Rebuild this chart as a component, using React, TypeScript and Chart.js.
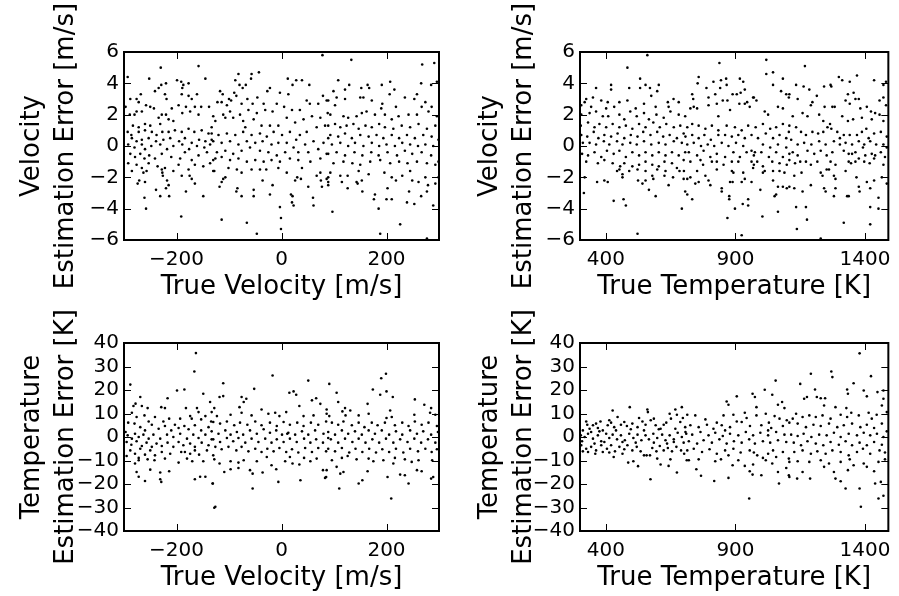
import React, { useEffect, useRef } from 'react';
import { Chart, registerables } from 'chart.js';
Chart.register(...registerables);

// ---- tick values ----
const velocityTicks = [-200, 0, 200];
const temperatureTicks = [400, 900, 1400];
const velocityErrorTicks = [-6, -4, -2, 0, 2, 4, 6];
const temperatureErrorTicks = [-40, -30, -20, -10, 0, 10, 20, 30, 40];

// ---- data: [true value, estimation error] ----
const velErrVsVelocity: [number, number][] = [
[-230,5.0],[-158,5.1],[-293,4.4],[-252,4.3],[-220,4.0],[-229,3.9],[-199,4.2],[-191,4.1],[-187,3.9],[-189,3.7],[-177,4.0],[-145,4.3],[-234,3.7],[-241,3.5],[-268,3.3],[-288,3.0],[-276,3.0],[-272,2.8],[-258,2.6],[-250,2.5],[-243,2.4],[-297,2.5],[-276,2.2],[-280,2.0],[-289,2.0],[-266,2.2],[-222,3.3],[-219,3.0],[-209,2.4],[-190,3.3],[-177,3.2],[-171,3.0],[-161,3.3],[-196,2.6],[-182,2.5],[-165,2.5],[-153,2.5],[-138,2.5],[-189,2.1],[-174,2.2],[-158,2.0],[-228,2.0],[-220,2.0],[-234,1.8],[-215,1.7],[-231,1.4],[-206,1.6],[-260,1.4],[-250,1.3],[-283,1.3],[-272,1.2],[-293,0.9],[-286,0.7],[-272,0.9],[-260,1.0],[-247,0.9],[-238,0.7],[-227,0.9],[-215,0.9],[-203,1.0],[-190,0.9],[-177,1.1],[-166,0.9],[-152,1.0],[-139,0.8],[-133,1.2],[-285,0.5],[-276,0.3],[-266,0.4],[-253,0.5],[-239,0.3],[-225,0.4],[-212,0.5],[-195,0.3],[-184,0.5],[-171,0.2],[-157,0.4],[-145,0.3],[-133,0.4],[-292,0.1],[-280,-0.1],[-266,0.1],[-260,-0.2],[-248,0.0],[-231,0.1],[-218,-0.2],[-206,0.0],[-189,0.1],[-176,-0.2],[-161,0.0],[-147,-0.1],[-136,0.1],[-288,-0.5],[-279,-0.7],[-269,-0.5],[-261,-0.8],[-252,-0.6],[-241,-0.8],[-228,-0.5],[-210,-0.7],[-193,-0.8],[-184,-0.4],[-171,-0.9],[-158,-0.6],[-142,-0.4],[-130,-0.9],[-292,-1.1],[-276,-1.2],[-266,-1.4],[-253,-1.1],[-236,-1.3],[-222,-1.4],[-196,-1.2],[-177,-1.5],[-165,-1.2],[-149,-1.3],[-285,-1.6],[-263,-1.7],[-257,-1.6],[-228,-1.5],[-227,-1.7],[-206,-1.6],[-190,-1.9],[-175,-1.9],[-171,-2.1],[-165,-2.4],[-271,-2.2],[-274,-2.4],[-260,-2.3],[-226,-1.9],[-218,-2.2],[-215,-2.5],[-220,-2.7],[-239,-2.8],[-182,-2.9],[-214,-3.2],[-231,-3.2],[-261,-3.3],[-149,-3.2],[-258,-4.0],[-191,-4.5],[-130,-1.6],[-136,-1.1],
[-82,4.6],[-57,4.6],[-43,4.7],[-88,4.2],[-58,4.3],[-68,3.9],[-80,3.9],[-74,3.7],[-117,3.5],[-112,3.3],[-90,3.4],[-100,3.0],[-86,3.2],[-122,2.8],[-114,2.8],[-104,2.6],[-96,2.9],[-76,2.7],[-65,3.0],[-55,2.7],[-46,3.1],[-34,2.7],[-22,3.7],[-27,3.5],[-3,3.4],[13,3.3],[12,4.3],[21,3.9],[28,4.2],[39,4.2],[53,3.9],[78,5.8],[79,3.2],[70,2.7],[86,2.9],[48,2.9],[54,2.7],[35,2.3],[20,2.3],[5,2.5],[-9,2.7],[-17,2.2],[-31,2.3],[-47,2.1],[-63,2.3],[-79,2.0],[-98,2.2],[-111,2.0],[-130,1.9],[-126,1.6],[-107,1.8],[-92,1.8],[-73,1.6],[-69,1.2],[-53,1.7],[-38,1.3],[-22,1.3],[-6,1.3],[10,1.8],[26,1.5],[42,1.7],[58,1.9],[74,1.8],[88,2.1],[83,1.3],[67,1.2],[48,0.9],[35,0.7],[16,0.9],[1,0.7],[-15,0.9],[-28,0.6],[-41,0.8],[-57,0.7],[-73,0.9],[-88,0.7],[-104,0.8],[-120,0.7],[-133,0.8],[-130,0.3],[-114,0.2],[-98,0.3],[-82,0.1],[-66,0.3],[-50,0.2],[-36,0.3],[-19,0.1],[-6,0.2],[10,0.2],[28,0.4],[45,0.1],[61,0.3],[80,0.2],[89,0.5],[-123,-0.4],[-107,-0.3],[-92,-0.5],[-76,-0.3],[-60,-0.1],[-41,-0.3],[-25,-0.4],[-9,-0.6],[7,-0.4],[23,-0.1],[32,-0.4],[51,-0.4],[70,-0.2],[86,-0.5],[-126,-0.8],[-114,-0.7],[-98,-0.9],[-82,-0.8],[-66,-1.0],[-50,-0.9],[-34,-1.0],[-19,-0.9],[-3,-1.0],[16,-0.8],[32,-0.9],[55,-1.0],[74,-0.8],[-128,-1.6],[-101,-1.4],[-85,-1.5],[-57,-1.5],[-41,-1.5],[-29,-1.5],[-6,-1.4],[10,-1.7],[39,-1.4],[74,-1.7],[-111,-2.1],[-114,-2.3],[-118,-2.6],[-107,-2.0],[-76,-1.7],[-84,-2.7],[-86,-2.9],[-53,-2.8],[-17,-2.5],[-36,-2.2],[26,-2.2],[30,-2.0],[37,-2.1],[18,-3.1],[21,-3.2],[20,-3.6],[23,-3.8],[60,-3.3],[61,-3.8],[67,-1.9],[75,-2.2],[77,-2.6],[89,-2.0],[89,-2.3],[-3,-3.9],[-1,-4.6],[-1,-5.3],[-114,-4.7],[-66,-4.9],[-47,-5.6],[-53,-3.2],[-76,-3.2],[-22,-3.1],[51,-2.6],
[133,5.5],[268,5.2],[291,5.3],[108,4.2],[129,3.9],[121,3.6],[152,3.7],[164,3.9],[167,3.7],[191,3.9],[207,4.1],[215,3.6],[266,4.0],[285,3.9],[296,4.1],[99,3.5],[105,3.1],[121,3.0],[150,3.1],[156,3.1],[172,2.9],[192,2.7],[206,3.3],[218,2.5],[235,3.1],[253,3.0],[258,3.3],[274,2.8],[286,2.5],[280,2.2],[102,2.6],[89,2.9],[93,2.0],[118,1.9],[127,1.8],[143,1.9],[153,2.1],[162,2.2],[178,2.0],[190,2.4],[197,2.0],[210,1.7],[223,1.9],[242,2.0],[258,2.0],[267,2.5],[296,1.9],[89,1.3],[102,1.4],[112,1.2],[124,1.3],[137,1.4],[147,1.1],[160,1.3],[172,1.2],[186,1.4],[197,1.2],[213,1.1],[229,1.3],[245,1.2],[261,1.4],[277,1.1],[293,1.3],[93,0.7],[108,0.6],[121,0.8],[134,0.5],[150,0.7],[166,0.6],[181,0.7],[194,0.5],[210,0.7],[224,0.5],[239,0.7],[254,0.5],[270,0.7],[286,0.6],[299,0.4],[96,0.1],[112,0.2],[127,0.0],[140,0.2],[156,0.0],[172,0.2],[186,0.0],[200,0.1],[216,0.0],[230,0.2],[245,0.1],[260,0.0],[274,0.1],[289,0.0],[89,-0.5],[105,-0.4],[121,-0.6],[139,-0.4],[154,-0.6],[171,-0.4],[185,-0.6],[202,-0.4],[220,-0.6],[235,-0.3],[249,-0.5],[267,-0.4],[285,-0.6],[299,-1.0],[99,-1.1],[118,-1.0],[135,-1.1],[150,-1.2],[169,-1.0],[188,-0.9],[207,-1.1],[224,-1.0],[240,-1.1],[258,-1.0],[277,-1.1],[293,-1.2],[93,-1.7],[112,-1.9],[126,-1.9],[147,-1.6],[153,-2.2],[166,-1.8],[196,-1.7],[210,-2.0],[218,-2.2],[230,-1.9],[245,-1.6],[249,-2.2],[261,-2.3],[274,-2.0],[279,-2.5],[293,-2.4],[299,-2.0],[86,-2.1],[89,-2.5],[115,-2.3],[126,-2.7],[143,-2.3],[145,-2.4],[154,-2.9],[178,-3.1],[176,-3.4],[202,-2.7],[200,-3.4],[210,-3.4],[239,-3.6],[243,-2.9],[253,-3.7],[266,-3.2],[277,-2.9],[289,-3.8],[97,-4.2],[185,-4.0],[226,-5.0],[188,-5.6],[277,-5.9]
];

const velErrVsTemperature: [number, number][] = [
[560,5.8],[483,5.0],[532,4.3],[420,3.9],[420,3.6],[362,3.7],[490,3.7],[532,3.7],[553,3.9],[570,3.7],[598,3.5],[604,3.9],[575,3.2],[324,3.0],[318,2.8],[350,3.1],[382,2.9],[407,2.8],[452,2.8],[483,2.9],[432,2.5],[401,2.4],[343,2.5],[305,2.6],[515,2.4],[547,2.7],[592,2.5],[639,2.8],[661,3.0],[681,2.8],[642,2.5],[305,2.0],[337,2.1],[362,2.2],[388,1.9],[409,1.9],[452,2.0],[471,1.7],[494,2.2],[519,1.9],[547,2.1],[566,1.7],[595,2.0],[623,1.8],[649,2.2],[681,2.0],[706,1.9],[303,1.3],[331,1.5],[356,1.2],[375,1.4],[401,1.2],[426,1.4],[452,1.2],[477,1.3],[502,1.1],[528,1.4],[553,1.2],[583,1.5],[608,1.2],[633,1.4],[662,1.2],[687,1.3],[305,0.7],[328,0.6],[353,0.9],[371,0.5],[394,0.7],[420,0.6],[445,0.8],[471,0.5],[496,0.7],[522,0.6],[544,0.9],[572,0.7],[598,0.9],[621,0.6],[646,0.7],[674,0.5],[700,0.8],[311,0.2],[337,0.2],[362,0.1],[392,0.3],[413,0.1],[443,0.3],[464,0.1],[494,0.2],[519,0.1],[547,0.3],[575,0.1],[604,0.2],[630,0.1],[662,0.3],[693,0.2],[308,-0.5],[331,-0.6],[356,-0.4],[382,-0.7],[404,-0.3],[430,-0.5],[452,-0.3],[477,-0.7],[502,-0.4],[528,-0.6],[553,-0.4],[579,-0.6],[604,-0.4],[630,-0.6],[655,-0.4],[681,-0.6],[706,-0.4],[324,-1.0],[369,-1.1],[394,-0.9],[426,-1.1],[455,-1.3],[471,-1.1],[502,-1.3],[528,-1.2],[553,-1.0],[579,-1.2],[604,-1.3],[626,-1.0],[655,-1.1],[674,-1.4],[700,-0.9],[443,-1.6],[452,-1.5],[490,-1.6],[464,-1.8],[522,-1.5],[553,-1.6],[579,-1.9],[598,-1.5],[630,-1.6],[626,-1.9],[659,-2.0],[684,-1.6],[700,-2.1],[318,-2.0],[464,-2.0],[524,-2.2],[553,-2.2],[583,-2.1],[366,-2.3],[394,-2.2],[407,-2.3],[541,-2.4],[566,-2.8],[592,-3.2],[642,-2.5],[315,-3.0],[430,-3.5],[468,-3.4],[477,-3.8],[693,-4.0],[522,-5.6],[706,-2.9],
[838,5.3],[1019,5.5],[1019,4.6],[1045,4.7],[758,4.4],[754,4.0],[844,4.2],[864,4.3],[917,4.3],[1083,4.3],[815,4.1],[788,3.7],[841,3.7],[866,3.9],[930,4.1],[936,3.6],[1045,3.9],[1076,3.5],[1096,3.3],[733,3.3],[737,3.0],[796,3.1],[822,3.3],[889,3.3],[905,3.3],[920,3.4],[968,3.1],[981,2.9],[945,2.8],[851,2.9],[869,2.9],[739,2.5],[752,2.4],[726,2.4],[796,2.6],[828,2.7],[834,1.9],[879,2.3],[915,2.7],[936,2.7],[955,2.5],[971,3.1],[1013,2.2],[1026,2.0],[1064,2.5],[1083,2.4],[1106,3.1],[714,1.2],[733,1.4],[758,1.3],[784,1.1],[809,1.3],[834,1.0],[866,1.3],[898,1.2],[924,1.0],[949,1.3],[978,1.2],[1006,1.4],[1034,1.1],[1057,1.2],[1083,1.4],[1106,0.9],[707,0.6],[733,0.7],[758,0.5],[780,0.7],[805,0.4],[834,0.7],[860,0.7],[886,0.6],[911,0.7],[936,0.5],[962,0.7],[987,0.5],[1017,0.8],[1045,0.5],[1070,0.7],[1096,0.5],[714,0.1],[739,0.2],[767,0.0],[793,0.1],[818,0.0],[847,0.2],[873,0.0],[902,0.2],[930,0.0],[962,-0.3],[975,-0.4],[1006,0.1],[1034,-0.1],[1064,0.1],[1096,-0.1],[720,-0.4],[752,-0.6],[777,-0.3],[803,-0.7],[828,-0.5],[860,-0.7],[892,-0.4],[917,-0.7],[943,-0.4],[971,-0.6],[1000,-0.4],[1029,-0.7],[1057,-0.4],[1083,-0.7],[1108,-0.5],[726,-1.0],[765,-0.9],[775,-1.2],[809,-1.0],[828,-1.0],[854,-1.2],[886,-1.0],[911,-1.0],[962,-1.0],[971,-1.2],[984,-1.0],[1006,-1.3],[1042,-1.0],[1070,-1.1],[1098,-1.2],[701,-1.6],[714,-2.1],[726,-2.0],[752,-1.6],[784,-1.9],[828,-1.5],[886,-1.6],[892,-1.7],[930,-1.7],[968,-1.4],[1006,-1.7],[1013,-1.6],[1045,-1.6],[1070,-1.6],[1089,-1.7],[745,-2.4],[758,-2.3],[796,-2.2],[803,-2.5],[847,-2.7],[847,-2.9],[879,-2.3],[889,-2.3],[924,-2.3],[936,-2.1],[962,-2.3],[996,-2.8],[1045,-2.2],[1064,-2.6],[1083,-2.6],[1098,-2.7],[714,-3.1],[733,-3.4],[876,-3.2],[876,-3.4],[928,-3.7],[949,-3.4],[949,-3.8],[1057,-3.1],[1051,-3.2],[898,-4.0],[1064,-4.2],[869,-4.6],[1004,-4.5],[924,-5.7],
[1168,5.1],[1369,4.5],[1299,4.4],[1312,4.2],[1435,4.2],[1471,3.9],[1481,4.1],[1134,3.9],[1163,3.8],[1185,3.6],[1214,3.2],[1242,3.8],[1267,3.9],[1270,3.8],[1341,4.1],[1356,3.4],[1108,3.3],[1140,3.0],[1191,2.6],[1197,2.8],[1244,2.5],[1274,2.5],[1283,2.5],[1325,2.9],[1334,3.3],[1341,2.7],[1363,3.0],[1376,3.0],[1382,2.4],[1407,2.5],[1423,2.2],[1439,2.1],[1456,2.9],[1471,3.1],[1481,2.6],[1121,1.9],[1159,2.1],[1178,1.9],[1223,2.0],[1239,1.6],[1255,1.2],[1265,1.4],[1270,1.1],[1312,1.9],[1334,1.6],[1354,1.7],[1388,1.8],[1405,1.1],[1426,1.7],[1456,2.0],[1471,1.6],[1108,1.3],[1134,1.2],[1153,0.9],[1172,0.7],[1197,0.9],[1219,0.8],[1239,0.9],[1293,0.9],[1303,0.5],[1318,0.7],[1341,0.7],[1369,0.7],[1388,0.9],[1414,0.5],[1435,0.8],[1461,0.9],[1484,0.6],[1115,0.4],[1140,0.1],[1165,0.2],[1193,0.1],[1223,0.3],[1248,0.1],[1280,0.3],[1303,0.1],[1325,0.2],[1350,0.1],[1376,0.3],[1397,0.1],[1420,0.3],[1443,0.1],[1471,0.1],[1484,-0.1],[1121,-0.4],[1140,-0.6],[1178,-0.3],[1204,-0.5],[1229,-0.3],[1252,-0.6],[1274,-0.4],[1318,-0.3],[1337,-0.5],[1350,-0.5],[1363,-0.4],[1392,-0.1],[1401,-0.6],[1426,-0.5],[1439,-0.6],[1461,-0.4],[1477,-0.7],[1108,-0.9],[1130,-1.1],[1150,-1.0],[1172,-1.0],[1191,-1.2],[1216,-1.0],[1267,-1.0],[1286,-1.2],[1337,-1.0],[1346,-1.1],[1363,-1.0],[1376,-0.8],[1397,-1.0],[1418,-1.1],[1435,-0.8],[1471,-1.2],[1127,-1.9],[1155,-1.7],[1229,-1.7],[1236,-1.9],[1252,-1.5],[1261,-1.5],[1280,-1.9],[1286,-2.1],[1325,-1.6],[1367,-2.0],[1407,-2.3],[1435,-2.2],[1465,-2.0],[1108,-2.6],[1127,-2.7],[1159,-2.9],[1191,-2.5],[1242,-2.7],[1248,-2.9],[1280,-3.2],[1286,-2.7],[1376,-2.6],[1379,-2.9],[1420,-2.7],[1452,-3.3],[1484,-2.4],[1134,-3.9],[1172,-3.9],[1331,-3.2],[1337,-3.2],[1420,-3.9],[1452,-4.0],[1176,-4.7],[1137,-5.3],[1318,-4.9],[1420,-5.0],[1229,-5.9]
];

const tempErrVsVelocity: [number, number][] = [
[-163,35.7],[-166,27.9],[-288,22.3],[-199,19.8],[-185,20.2],[-149,18.4],[-217,16.5],[-269,17.0],[-278,14.2],[-282,13.2],[-266,13.2],[-229,12.7],[-222,12.3],[-255,12.3],[-136,14.9],[-161,12.3],[-182,12.3],[-158,10.6],[-285,10.3],[-276,8.5],[-261,9.2],[-253,6.6],[-241,8.5],[-225,6.6],[-214,7.8],[-203,5.2],[-193,7.8],[-174,8.9],[-171,7.8],[-153,7.5],[-145,8.9],[-134,6.6],[-292,6.1],[-280,5.7],[-269,4.2],[-260,2.8],[-247,5.2],[-234,3.5],[-222,4.7],[-210,2.8],[-196,3.8],[-185,4.7],[-177,3.3],[-165,5.0],[-153,2.8],[-139,4.2],[-297,2.1],[-293,0.7],[-285,-0.7],[-279,1.4],[-272,0.0],[-263,1.0],[-253,-0.7],[-244,1.0],[-231,-0.7],[-218,1.0],[-206,0.0],[-193,1.4],[-180,-0.7],[-168,1.0],[-158,-0.4],[-145,1.0],[-133,-1.0],[-295,-2.1],[-286,-3.3],[-276,-1.8],[-266,-3.8],[-257,-2.4],[-247,-4.2],[-238,-2.8],[-228,-3.8],[-217,-2.4],[-206,-4.2],[-196,-2.1],[-187,-3.5],[-174,-2.8],[-165,-4.2],[-152,-2.4],[-139,-3.5],[-288,-5.7],[-279,-7.1],[-269,-5.0],[-260,-7.5],[-250,-5.7],[-241,-7.8],[-228,-6.4],[-212,-7.1],[-191,-6.4],[-184,-6.4],[-174,-7.1],[-165,-5.7],[-157,-7.5],[-142,-5.7],[-130,-7.8],[-295,-8.1],[-272,-8.9],[-255,-9.5],[-242,-9.9],[-222,-9.2],[-196,-10.9],[-180,-9.2],[-170,-10.3],[-149,-10.3],[-279,-11.3],[-272,-9.9],[-250,-13.9],[-231,-15.1],[-214,-14.6],[-276,-14.9],[-272,-16.9],[-260,-18.7],[-231,-18.0],[-229,-19.1],[-165,-18.0],[-155,-16.9],[-145,-16.9],[-131,-19.8],[-128,-30.1],
[-17,26.2],[51,24.0],[-111,22.9],[-52,20.5],[15,18.8],[23,19.4],[28,18.0],[-111,17.4],[-118,17.0],[-76,17.0],[-67,16.3],[58,15.6],[66,16.5],[-72,14.9],[74,14.1],[34,13.2],[-128,12.3],[-80,12.7],[-38,11.7],[-133,10.6],[-123,8.9],[-97,9.5],[-76,10.3],[-57,9.2],[-25,9.9],[-12,10.3],[9,10.6],[-4,8.9],[42,8.9],[61,9.2],[86,9.9],[-130,6.4],[-117,5.7],[-104,6.6],[-90,5.0],[-79,6.1],[-65,5.2],[-50,6.6],[-38,5.0],[-22,6.1],[-9,4.7],[4,6.4],[16,5.2],[30,6.1],[42,4.7],[56,6.1],[70,5.2],[85,6.6],[-133,2.4],[-120,1.4],[-107,2.8],[-97,1.0],[-85,2.1],[-73,1.0],[-60,2.8],[-47,1.4],[-34,3.3],[-22,1.8],[-10,2.8],[1,1.0],[13,1.8],[26,1.0],[39,2.4],[51,1.0],[64,2.8],[80,1.4],[-130,-1.0],[-117,-2.1],[-104,-0.4],[-92,-1.8],[-82,-0.4],[-69,-2.4],[-57,-0.7],[-44,-2.1],[-31,-0.7],[-19,-2.4],[-9,-1.0],[4,-2.1],[11,1.4],[16,-0.7],[29,-2.1],[43,-0.7],[55,-2.4],[66,-1.0],[79,-2.4],[89,-0.4],[-126,-4.2],[-114,-5.2],[-101,-4.2],[-86,-5.7],[-76,-4.2],[-63,-6.1],[-50,-5.0],[-38,-6.4],[-27,-5.0],[-15,-6.1],[-4,-4.7],[9,-6.4],[20,-5.2],[32,-6.6],[45,-4.7],[58,-6.4],[70,-4.7],[85,-6.1],[-128,-9.5],[-118,-11.3],[-97,-10.3],[-82,-10.9],[-72,-9.9],[-60,-14.1],[-55,-15.6],[-47,-10.3],[-36,-15.1],[-19,-12.0],[-10,-13.7],[-6,-19.1],[7,-10.3],[21,-11.3],[34,-11.7],[36,-18.4],[43,-8.9],[55,-10.3],[67,-9.2],[79,-14.1],[85,-17.0],[-131,-19.8],[-109,-14.9],[-97,-13.7],[-82,-13.2],[-55,-21.9],[-126,-29.7],[16,-8.5],[-28,-8.5],
[199,26.9],[190,25.0],[174,20.2],[188,18.0],[200,19.4],[91,22.6],[105,18.8],[164,14.1],[108,14.9],[212,17.0],[254,16.0],[272,13.7],[285,12.3],[121,12.3],[86,11.7],[207,11.3],[116,10.9],[131,11.3],[122,9.2],[91,8.9],[147,9.2],[166,9.9],[200,8.1],[210,8.5],[253,9.5],[283,10.3],[293,9.5],[96,6.1],[108,5.2],[118,6.6],[134,5.0],[147,6.1],[158,4.2],[172,6.1],[183,5.0],[197,6.1],[216,5.0],[230,6.1],[242,4.7],[254,6.6],[267,5.2],[280,6.1],[296,4.7],[89,2.1],[102,1.0],[115,2.8],[127,1.4],[140,2.4],[153,1.0],[166,2.8],[178,1.4],[191,2.8],[205,1.0],[218,2.4],[230,1.0],[245,2.8],[258,1.4],[270,2.4],[285,1.0],[298,2.1],[94,-1.0],[108,-2.4],[121,-0.7],[135,-2.1],[147,-0.7],[160,-2.4],[173,-1.0],[186,-2.4],[199,-0.7],[213,-2.4],[226,-1.0],[240,-2.1],[253,-0.7],[266,-2.4],[279,-1.0],[293,-2.4],[89,-5.0],[102,-6.1],[115,-4.7],[129,-6.6],[141,-5.0],[154,-6.4],[167,-5.0],[180,-6.6],[192,-5.2],[205,-6.4],[218,-5.0],[232,-6.6],[245,-5.0],[260,-6.1],[274,-5.0],[286,-6.4],[296,-5.2],[96,-9.9],[115,-8.9],[126,-8.1],[143,-9.5],[166,-9.2],[175,-10.3],[194,-9.9],[216,-8.9],[235,-9.5],[248,-10.6],[261,-9.9],[287,-9.9],[86,-14.1],[105,-12.7],[112,-15.6],[118,-14.9],[147,-19.8],[154,-18.4],[164,-14.6],[202,-17.0],[213,-11.3],[226,-16.0],[235,-16.3],[242,-19.8],[258,-14.1],[267,-14.6],[285,-17.7],[289,-17.0],[110,-21.9],[209,-26.2],[83,-17.4]
];

const tempErrVsTemperature: [number, number][] = [
[426,11.3],[492,12.7],[560,11.7],[562,10.6],[445,8.5],[379,6.6],[362,5.7],[350,5.0],[328,5.2],[311,2.8],[337,3.5],[369,3.8],[388,2.8],[407,5.0],[420,6.1],[432,4.2],[458,5.2],[481,4.7],[502,5.7],[522,4.2],[541,6.6],[553,5.2],[573,7.1],[592,5.0],[611,3.5],[623,5.2],[646,9.9],[651,7.8],[668,11.7],[674,9.5],[693,12.7],[687,6.4],[706,4.2],[303,0.7],[318,0.0],[308,-1.8],[331,1.4],[350,-0.7],[369,0.7],[382,-1.8],[401,1.4],[413,-0.4],[426,1.0],[443,-1.0],[458,0.7],[473,-1.4],[490,1.4],[506,-0.4],[522,1.0],[537,-1.4],[553,0.7],[566,-1.0],[583,1.4],[598,-0.4],[617,1.0],[630,-1.4],[646,0.7],[662,-1.0],[677,1.8],[693,0.0],[710,1.4],[305,-3.5],[324,-5.0],[343,-4.2],[362,-5.7],[382,-3.5],[404,-5.0],[420,-3.5],[435,-6.1],[452,-4.2],[471,-5.2],[483,-3.5],[502,-5.7],[519,-4.2],[534,-6.1],[547,-7.8],[557,-7.8],[570,-7.8],[579,-4.7],[595,-6.1],[608,-3.8],[623,-5.7],[639,-4.7],[655,-6.1],[672,-4.2],[690,-5.7],[702,-7.1],[712,-9.9],[331,-6.4],[359,-7.1],[430,-8.5],[486,-10.9],[506,-10.3],[524,-12.4],[611,-11.7],[642,-12.3],[674,-15.1],[572,-18.0],[413,-6.6],[464,-7.1],[388,-6.4],[311,-6.1],[598,-9.2],[649,-9.5],[662,-2.1],[343,2.1],[356,-2.8],[375,2.4],[394,-2.1],[439,2.8],[464,-2.1],[496,3.3],[515,-2.4],[547,2.8],[585,-2.4],[604,3.3],[636,-2.8],[668,3.5],[700,-2.4],[471,6.4],[528,8.1],[585,7.8],[633,6.1],[697,8.1],[413,7.1],[324,6.6],
[1055,24.0],[1013,20.1],[966,18.4],[975,17.0],[905,17.3],[866,15.1],[873,13.7],[1042,18.0],[1080,14.9],[1064,13.7],[981,12.7],[1089,12.3],[892,9.5],[936,10.3],[943,8.1],[854,9.2],[745,9.2],[714,9.5],[784,7.5],[828,6.1],[905,6.6],[924,6.4],[981,9.2],[1017,9.9],[1029,6.1],[1051,8.9],[1070,7.8],[1098,7.1],[726,5.0],[758,4.2],[790,5.2],[815,3.5],[847,5.0],[879,4.2],[956,4.7],[1000,5.0],[1038,3.8],[1083,4.7],[707,2.1],[733,1.0],[765,2.1],[796,0.7],[822,1.8],[851,0.4],[879,1.4],[911,0.7],[940,2.1],[968,0.7],[996,1.8],[1026,0.7],[1057,2.1],[1089,1.0],[720,-1.8],[752,-2.8],[777,-1.4],[809,-2.4],[838,-1.0],[866,-2.8],[894,-1.8],[924,-2.4],[953,-1.0],[975,-2.8],[1006,-1.8],[1034,-2.4],[1064,-1.4],[1096,-2.1],[714,-5.7],[739,-5.0],[771,-6.4],[800,-5.2],[828,-7.1],[860,-5.7],[873,-7.8],[892,-5.0],[920,-6.6],[955,-5.7],[971,-6.6],[984,-7.8],[1006,-8.9],[1017,-9.9],[1026,-7.1],[1045,-5.7],[1057,-8.5],[1083,-6.4],[1106,-9.2],[720,-9.9],[758,-9.5],[822,-10.3],[844,-9.5],[889,-12.0],[936,-12.3],[955,-14.6],[966,-16.0],[1000,-16.3],[968,-11.7],[1042,-11.3],[1064,-14.9],[1068,-19.8],[1096,-13.2],[1106,-16.3],[873,-17.4],[818,-18.7],[767,-16.5],[749,-13.7],[953,-26.2],[911,-9.9],[860,2.8],[1026,2.8],
[1379,35.6],[1191,26.9],[1270,27.9],[1274,25.5],[1423,25.9],[1150,22.6],[1207,20.2],[1331,20.2],[1334,18.4],[1356,22.9],[1395,19.8],[1407,17.3],[1448,19.1],[1471,19.8],[1165,16.3],[1176,17.0],[1214,17.0],[1229,16.5],[1246,16.5],[1242,13.4],[1286,12.7],[1328,12.3],[1347,10.3],[1471,16.3],[1465,13.4],[1484,10.6],[1121,7.8],[1134,9.9],[1159,8.5],[1185,9.2],[1210,8.5],[1236,9.2],[1267,7.8],[1306,9.5],[1331,8.5],[1376,9.2],[1414,10.3],[1426,7.8],[1445,9.5],[1108,6.1],[1140,5.7],[1172,4.2],[1201,5.2],[1229,4.7],[1261,5.7],[1293,4.2],[1318,5.0],[1350,5.7],[1382,4.2],[1407,5.2],[1435,3.8],[1465,5.7],[1484,2.4],[1115,1.0],[1140,0.4],[1163,1.4],[1193,0.0],[1223,1.0],[1252,0.7],[1280,1.8],[1306,0.0],[1337,1.4],[1369,0.7],[1395,1.8],[1420,0.7],[1446,1.4],[1471,0.0],[1125,-2.4],[1153,-3.5],[1178,-1.8],[1210,-2.8],[1239,-3.5],[1267,-2.1],[1299,-3.3],[1325,-1.8],[1350,-3.5],[1379,-2.4],[1407,-3.5],[1435,-2.1],[1465,-3.3],[1127,-6.4],[1159,-5.7],[1191,-7.1],[1216,-6.1],[1248,-7.1],[1274,-5.7],[1306,-6.4],[1337,-7.8],[1369,-6.4],[1392,-5.0],[1420,-7.1],[1456,-5.7],[1477,-6.6],[1108,-10.6],[1140,-10.3],[1185,-10.6],[1229,-9.9],[1306,-10.6],[1341,-9.5],[1356,-12.0],[1395,-11.3],[1407,-12.7],[1435,-14.6],[1452,-10.6],[1477,-9.5],[1108,-17.0],[1138,-17.7],[1188,-17.7],[1286,-17.7],[1306,-18.8],[1325,-21.9],[1379,-21.9],[1384,-29.7],[1439,-19.8],[1461,-19.1],[1471,-25.0],[1452,-26.2],[1242,-12.7],[1261,-11.3],[1159,-14.9],[1280,-14.9],[1334,-14.1]
];

// ---- layout (page pixels) ----
const W = 899;
const H = 596;
const FONT = "'DejaVu Sans', sans-serif";
const TICK_SIZE = 20;
const LABEL_SIZE = 26;
const Y_LINE = 34;
const X_AXIS_H = 60;

type PanelCfg = {
  data: [number, number][];
  xRange: [number, number];
  xTicks: number[];
  yRange: [number, number];
  yTicks: number[];
  xTitle: string;
  yTitle: string[];
  box: [number, number, number, number]; // left, top, right, bottom
  padLeft: number;
  yTitleX: number;
  xTitleY: number;
};

const panels: PanelCfg[] = [
  { data: velErrVsVelocity, xRange: [-300, 300], xTicks: velocityTicks, yRange: [-6, 6], yTicks: velocityErrorTicks,
    xTitle: 'True Velocity [m/s]', yTitle: ['Velocity', 'Estimation Error [m/s]'],
    box: [124, 52, 439, 240], padLeft: 0, yTitleX: 32, xTitleY: 287 },
  { data: velErrVsTemperature, xRange: [300, 1490], xTicks: temperatureTicks, yRange: [-6, 6], yTicks: velocityErrorTicks,
    xTitle: 'True Temperature [K]', yTitle: ['Velocity', 'Estimation Error [m/s]'],
    box: [580, 52, 892, 240], padLeft: 456, yTitleX: 490, xTitleY: 287 },
  { data: tempErrVsVelocity, xRange: [-300, 300], xTicks: velocityTicks, yRange: [-40, 40], yTicks: temperatureErrorTicks,
    xTitle: 'True Velocity [m/s]', yTitle: ['Temperature', 'Estimation Error [K]'],
    box: [124, 343, 439, 531], padLeft: 0, yTitleX: 32, xTitleY: 578 },
  { data: tempErrVsTemperature, xRange: [300, 1490], xTicks: temperatureTicks, yRange: [-40, 40], yTicks: temperatureErrorTicks,
    xTitle: 'True Temperature [K]', yTitle: ['Temperature', 'Estimation Error [K]'],
    box: [580, 343, 892, 531], padLeft: 456, yTitleX: 490, xTitleY: 578 },
];

const fmt = (v: number | string) => {
  const n = Number(v);
  return n < 0 ? '\u2212' + Math.abs(n) : String(n);
};

const framePlugin = {
  id: 'frame',
  afterDraw(chart: any) {
    const { ctx, chartArea } = chart;
    const { left, right, top, bottom } = chartArea;
    const xs = chart.scales.x;
    const ys = chart.scales.y;
    const L = 7;
    ctx.save();
    ctx.strokeStyle = '#000';
    ctx.lineWidth = 1;
    ctx.beginPath();
    xs.ticks.forEach((t: any) => {
      const px = Math.round(xs.getPixelForValue(t.value)) + 0.5;
      ctx.moveTo(px, bottom); ctx.lineTo(px, bottom - L);
      ctx.moveTo(px, top); ctx.lineTo(px, top + L);
    });
    ys.ticks.forEach((t: any) => {
      const py = Math.round(ys.getPixelForValue(t.value)) + 0.5;
      ctx.moveTo(left, py); ctx.lineTo(left + L, py);
      ctx.moveTo(right, py); ctx.lineTo(right - L, py);
    });
    ctx.stroke();
    ctx.lineWidth = 2;
    ctx.strokeRect(left, top, right - left, bottom - top);
    ctx.restore();
  },
};

function Panel({ p }: { p: PanelCfg }) {
  const ref = useRef<HTMLCanvasElement>(null);
  useEffect(() => {
    const [bl, bt, br, bb] = p.box;
    const chart = new Chart(ref.current as HTMLCanvasElement, {
      type: 'scatter',
      data: {
        datasets: [{
          data: p.data.map(([x, y]) => ({ x, y })),
          pointRadius: 1.3,
          pointHoverRadius: 1.3,
          pointBackgroundColor: '#000',
          backgroundColor: '#000',
          borderWidth: 0,
          pointBorderWidth: 0,
        }],
      },
      options: {
        responsive: false,
        animation: false,
        devicePixelRatio: 1,
        events: [],
        layout: { padding: { left: p.padLeft, top: bt, right: W - br, bottom: H - bb - X_AXIS_H } },
        plugins: { legend: { display: false }, tooltip: { enabled: false } },
        scales: {
          x: {
            type: 'linear', position: 'bottom', min: p.xRange[0], max: p.xRange[1],
            afterFit: (s: any) => { s.height = X_AXIS_H; },
            afterBuildTicks: (s: any) => { s.ticks = p.xTicks.map((value) => ({ value })); },
            grid: { display: false, drawTicks: false },
            border: { display: false },
            ticks: { color: '#000', font: { family: FONT, size: TICK_SIZE }, padding: 8, maxRotation: 0, autoSkip: false, callback: fmt },
            title: { display: true, text: p.xTitle, color: '#000', font: { family: FONT, size: LABEL_SIZE, lineHeight: 1 },
              padding: { top: 0, bottom: bb + X_AXIS_H - p.xTitleY - LABEL_SIZE / 2 } },
          },
          y: {
            type: 'linear', position: 'left', min: p.yRange[0], max: p.yRange[1],
            afterFit: (s: any) => { s.width = bl - p.padLeft; },
            afterBuildTicks: (s: any) => { s.ticks = p.yTicks.map((value) => ({ value })); },
            grid: { display: false, drawTicks: false },
            border: { display: false },
            ticks: { color: '#000', font: { family: FONT, size: TICK_SIZE }, padding: 5, autoSkip: false, callback: fmt },
            title: { display: true, text: p.yTitle, color: '#000', font: { family: FONT, size: LABEL_SIZE, lineHeight: Y_LINE / LABEL_SIZE },
              padding: { top: p.yTitleX - p.padLeft - Y_LINE / 2, bottom: 0 } },
          },
        },
      },
      plugins: [framePlugin],
    } as any);
    return () => chart.destroy();
  }, [p]);
  return (
    <canvas ref={ref} width={W} height={H}
      style={{ position: 'absolute', left: 0, top: 0, width: W, height: H }} />
  );
}

export default function App() {
  return (
    <div style={{ position: 'fixed', left: 0, top: 0, width: W, height: H, background: '#fff' }}>
      {panels.map((p, i) => <Panel key={i} p={p} />)}
    </div>
  );
}
